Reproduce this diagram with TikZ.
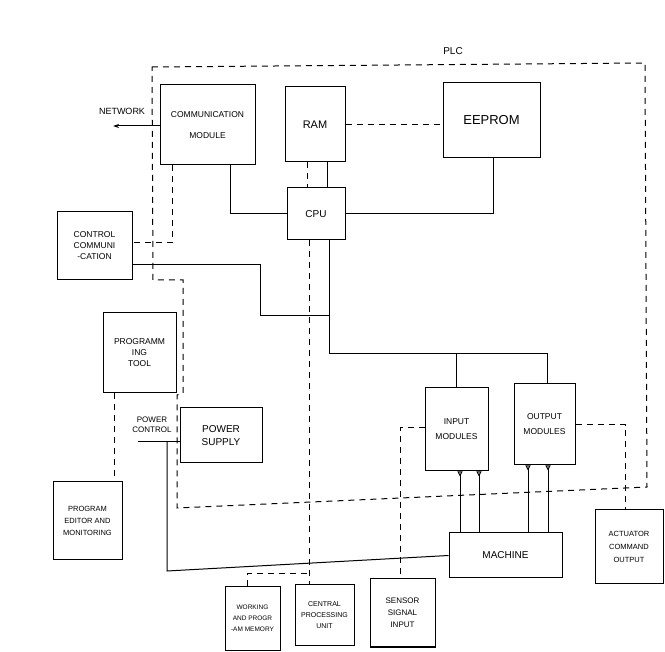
\documentclass[tikz,border=0pt]{standalone}
\usepackage{fontspec}
\setmainfont{Liberation Sans}
\usetikzlibrary{arrows.meta}
\begin{document}
\begin{tikzpicture}[x=1pt,y=-1pt,
  box/.style={draw,line width=1pt,inner sep=1pt,align=center,font=\fontsize{8.5}{11}\selectfont},
  ln/.style={line width=1pt},
  dsh/.style={line width=1pt,dash pattern=on 6pt off 5pt},
  lbl/.style={font=\fontsize{8.5}{10}\selectfont,align=center,inner sep=0pt},
  tip/.style={ln,-{Triangle[open,reversed,length=5pt,width=5pt]}}]
\useasboundingbox (0,0) rectangle (665,652);
\fill[white] (0,0) rectangle (665,652);

% PLC boundary
\draw[dsh] (152,67) -- (645,63) -- (647,487) -- (177,508) -- (177,395) -- (183,393) -- (183,280) -- (153,280) -- cycle;
\node[lbl,font=\fontsize{10}{12}\selectfont] (plc) at (453,51) {PLC};

% boxes
\node[box,minimum width=95pt,minimum height=80pt] (comm) at (207.5,125) {COMMUNICATION\\[10pt]MODULE};
\node[box,minimum width=60pt,minimum height=75pt,font=\fontsize{11}{13}\selectfont] (ram) at (315,124.5) {RAM};
\node[box,minimum width=97pt,minimum height=75pt,font=\fontsize{13}{15}\selectfont] (eeprom) at (491.5,120.5) {EEPROM};
\node[box,minimum width=58pt,minimum height=52pt,font=\fontsize{10}{12}\selectfont] (cpu) at (316,214) {CPU};
\node[box,minimum width=75pt,minimum height=68pt] (ctrl) at (94.5,246) {CONTROL\\COMMUNI\\-CATION};
\node[box,minimum width=73pt,minimum height=80pt] (prog) at (139.5,353) {PROGRAMM\\ING\\TOOL};
\node[box,minimum width=82pt,minimum height=55pt,font=\fontsize{10}{13}\selectfont] (psup) at (221,435.5) {POWER\\SUPPLY};
\node[box,minimum width=69pt,minimum height=78pt,font=\fontsize{7.5}{12}\selectfont] (editor) at (87.5,521) {PROGRAM\\EDITOR AND\\MONITORING};
\node[box,minimum width=63pt,minimum height=83pt,font=\fontsize{8.5}{15}\selectfont] (input) at (456.5,429.5) {INPUT\\MODULES};
\node[box,minimum width=61pt,minimum height=81pt,font=\fontsize{8.5}{15}\selectfont] (output) at (544.5,424.5) {OUTPUT\\MODULES};
\node[box,minimum width=113pt,minimum height=45pt,font=\fontsize{10}{12}\selectfont] (machine) at (505.5,555.5) {MACHINE};
\node[box,minimum width=68pt,minimum height=74pt,font=\fontsize{7.5}{13}\selectfont] (actuator) at (629,547) {ACTUATOR\\COMMAND\\OUTPUT};
\node[box,minimum width=55pt,minimum height=63pt,font=\fontsize{6.5}{11}\selectfont] (working) at (252.5,618.5) {WORKING\\AND PROGR\\-AM MEMORY};
\node[box,minimum width=59pt,minimum height=61pt,font=\fontsize{7}{11}\selectfont] (cpuunit) at (324.5,615.5) {CENTRAL\\PROCESSING\\UNIT};
\node[box,minimum width=65pt,minimum height=68pt,font=\fontsize{8}{12}\selectfont] (sensor) at (402.5,613) {SENSOR\\SIGNAL\\INPUT};

% labels
\node[lbl,font=\fontsize{9}{11}\selectfont] (network) at (122,111) {NETWORK};
\node[lbl,font=\fontsize{8}{10}\selectfont] (pctrl) at (152,425) {POWER\\CONTROL};
\coordinate (net) at (113,126);
\coordinate (pc1) at (138,442);
\coordinate (pc2) at (167,442);
\coordinate (pc3) at (167,571);

% network arrow
\draw[ln,-{Stealth[length=6pt,width=4pt]}] (comm.west |- 0,126) -- (net);

% solid connections
\draw[ln] ([xshift=22.5pt]comm.south) |- (cpu.west);
\draw[ln] (cpu.east) -| ([xshift=1.5pt]eeprom.south);
\draw[ln] ([xshift=12pt]ram.south) -- ([xshift=12pt]ram.south |- cpu.north);
\draw[ln] ([xshift=13pt]cpu.south) |- ([xshift=2.5pt]output.north |- 0,354) -- ([xshift=2.5pt]output.north);
\draw[ln] (input.north |- 0,354) -- (input.north);
\draw[ln] (ctrl.east |- 0,265) -| (260,316) -- (329,316);
\draw[ln] (pc1) -- (psup.west |- pc1);
\draw[ln] (pc2) -- (pc3) -- (machine.west);

% machine to modules
\draw[tip] (machine.north -| 460,0) -- (input.south -| 460,0);
\draw[tip] (machine.north -| 479,0) -- (input.south -| 479,0);
\draw[tip] (machine.north -| 528,0) -- (output.south -| 528,0);
\draw[tip] (machine.north -| 548,0) -- (output.south -| 548,0);

% dashed connections
\draw[dsh] (ram.east) -- (ram.east -| eeprom.west);
\draw[dsh] ([xshift=-8pt]ram.south) -- ([xshift=-8pt]ram.south |- cpu.north);
\draw[dsh] ([xshift=-35.5pt]comm.south) |- (ctrl.east |- 0,243);
\draw[dsh] (prog.south -| 114,0) -- (editor.north -| 114,0);
\draw[dsh] ([xshift=-7pt]cpu.south) -- ([xshift=-7pt]cpu.south |- cpuunit.north);
\draw[dsh] ([xshift=-5.5pt]working.north) |- (309,574);
\draw[dsh] (input.west |- 0,428) -| (sensor.north -| 400,0);
\draw[dsh] (output.east |- 0,425) -| ([xshift=-4pt]actuator.north);
\end{tikzpicture}
\end{document}
